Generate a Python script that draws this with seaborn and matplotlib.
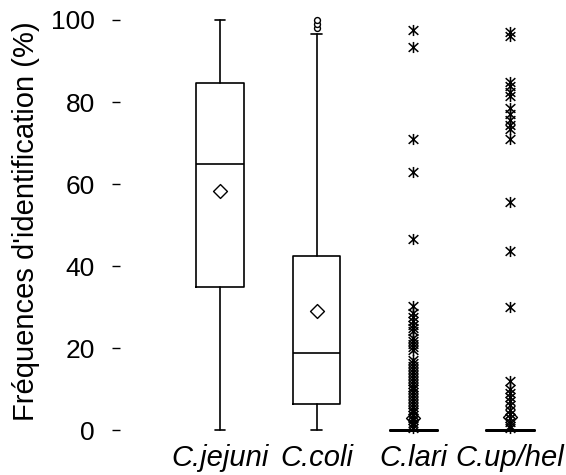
import numpy as np
import pandas as pd
import matplotlib
matplotlib.use("Agg")
import matplotlib.pyplot as plt
import seaborn as sns
from matplotlib.path import Path

# ---- data ----
categories = ["C.jejuni", "C.coli", "C.lari", "C.up/hel"]
q1 = [35.0, 6.3, 0.0, 0.0]
median = [65.0, 18.8, 0.0, 0.0]
q3 = [84.6, 42.5, 0.0, 0.0]
whisker_low = [0.0, 0.0, 0.0, 0.0]
whisker_high = [100.0, 96.7, 0.0, 0.0]
means = [58.3, 29.0, 2.9, 3.2]
coli_outliers = [98.0, 99.0, 100.0]
lari_outliers = [97.5, 93.5, 71.0, 63.0, 46.5, 30.3, 28.5, 27.5, 26.5, 25.5,
                 25.0, 24.2, 22.5, 21.8, 21.0, 20.3, 19.5, 17.0, 16.3, 15.6,
                 15.0, 14.2, 13.5, 12.8, 12.0, 11.3, 10.6, 10.0, 9.2, 8.5,
                 7.8, 7.0, 6.3, 5.6, 5.0, 4.3, 3.6, 3.0, 2.4, 1.8, 1.2, 0.6]
uphel_outliers = [97.0, 96.0, 85.0, 84.0, 82.5, 81.5, 78.5, 77.0, 75.5, 74.5,
                  73.5, 71.0, 55.5, 43.7, 30.0, 12.0, 10.0, 9.0, 8.0, 7.0,
                  6.0, 5.0, 4.0, 3.0, 2.0, 1.0, 0.5]
yticks = [0, 20, 40, 60, 80, 100]
ylabel = "Fréquences d'identification (%)"

# ---- style ----
sns.set_theme(style="white")
plt.rcParams["font.family"] = ["Liberation Sans", "DejaVu Sans"]

fig = plt.figure(figsize=(5.66, 4.75), dpi=100)
ax = fig.add_axes([0.212, 0.0947, 0.7774, 0.8632])

positions = list(range(len(categories)))
stats = [dict(label=c, q1=a, med=m, q3=b, whislo=lo, whishi=hi, fliers=[])
         for c, a, m, b, lo, hi in zip(categories, q1, median, q3,
                                       whisker_low, whisker_high)]
lw = 1.2
art = ax.bxp(stats, positions=positions, widths=0.49, capwidths=0.11,
             showfliers=False, showmeans=False, patch_artist=False,
             boxprops=dict(color="black", linewidth=lw),
             medianprops=dict(color="black", linewidth=lw),
             whiskerprops=dict(color="black", linewidth=lw),
             capprops=dict(color="black", linewidth=lw))
for group in art.values():
    for a in group:
        a.set_clip_on(False)
# the zero-height boxes of C.lari / C.up/hel read as a thick line
for i in (2, 3):
    art["boxes"][i].set_linewidth(2.0)
    art["medians"][i].set_linewidth(2.0)

# asterisk marker (x with a vertical bar)
ast = Path([(-1, -0.9), (1, 0.9), (-1, 0.9), (1, -0.9), (0, -1.15), (0, 1.15)],
           [Path.MOVETO, Path.LINETO, Path.MOVETO, Path.LINETO,
            Path.MOVETO, Path.LINETO])

mean_df = pd.DataFrame({"pos": positions, "value": means})
sns.scatterplot(data=mean_df, x="pos", y="value", marker="D", s=50,
                color="white", edgecolor="black", linewidth=1.0, ax=ax,
                clip_on=False, zorder=2.5)

star_df = pd.DataFrame({
    "pos": [2] * len(lari_outliers) + [3] * len(uphel_outliers),
    "value": lari_outliers + uphel_outliers,
})
sns.scatterplot(data=star_df, x="pos", y="value", marker=ast, s=64,
                color="black", edgecolor="black", linewidth=1.1, ax=ax,
                clip_on=False, zorder=3)

coli_df = pd.DataFrame({"pos": [1] * len(coli_outliers),
                        "value": coli_outliers})
sns.scatterplot(data=coli_df, x="pos", y="value", marker="o", s=18,
                color="white", edgecolor="black", linewidth=1.0, ax=ax,
                clip_on=False, zorder=3)

ax.set_xlim(-1.034, 3.517)
ax.set_ylim(0, 100)
for s in ax.spines.values():
    s.set_visible(False)
ax.set_yticks(yticks)
ax.set_yticklabels([str(t) for t in yticks])
ax.set_xticks(positions)
ax.set_xticklabels(categories, fontstyle="italic")
ax.tick_params(axis="y", length=6, width=1, color="black", direction="out",
               pad=12, labelsize=19, left=True, labelcolor="black")
ax.tick_params(axis="x", length=0, pad=10, labelsize=21, labelcolor="black")
ax.set_xlabel("")
ax.set_ylabel(ylabel, fontsize=21, color="black")
ax.yaxis.set_label_coords(-0.182, 0.51)
ax.grid(False)

fig.savefig("out.png", dpi=100)
